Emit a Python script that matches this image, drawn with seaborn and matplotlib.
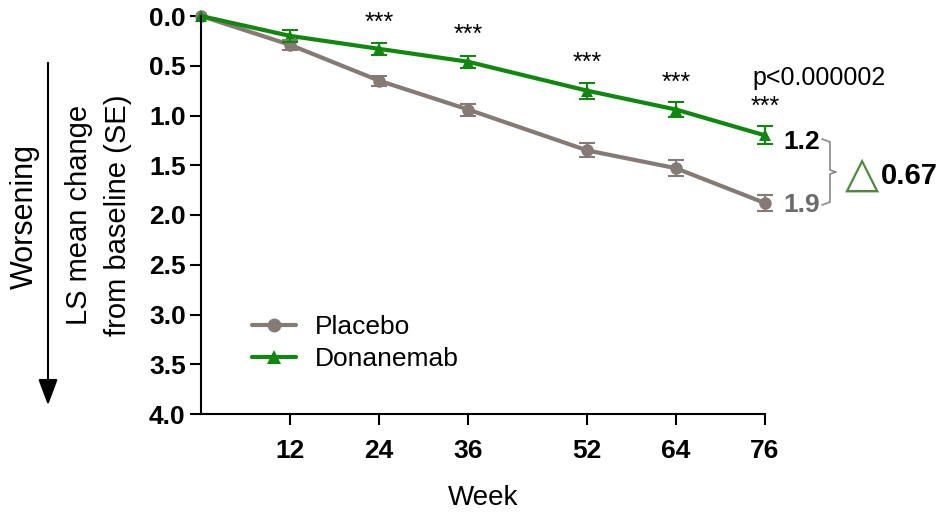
import matplotlib
matplotlib.use("Agg")
import matplotlib.pyplot as plt
import seaborn as sns
import pandas as pd
import numpy as np

weeks = [0, 12, 24, 36, 52, 64, 76]
placebo = [0.0, 0.29, 0.65, 0.94, 1.35, 1.53, 1.88]
placebo_se = [0.0, 0.05, 0.05, 0.06, 0.07, 0.08, 0.08]
donanemab = [0.0, 0.20, 0.33, 0.46, 0.75, 0.94, 1.20]
donanemab_se = [0.0, 0.06, 0.06, 0.06, 0.08, 0.08, 0.09]
stars_weeks = [24, 36, 52, 64, 76]
stars_y = [0.07, 0.19, 0.47, 0.67, 0.91]
xticks = [12, 24, 36, 52, 64, 76]
yticks = [0.0, 0.5, 1.0, 1.5, 2.0, 2.5, 3.0, 3.5, 4.0]

sns.set_style("ticks")
plt.rcParams['font.family'] = ['Liberation Sans', 'DejaVu Sans']
plt.rcParams['text.color'] = 'black'
plt.rcParams['axes.labelcolor'] = 'black'
plt.rcParams['xtick.color'] = 'black'
plt.rcParams['ytick.color'] = 'black'
plt.rcParams['axes.edgecolor'] = 'black'

GRAY = "#857b74"
GREEN = "#108810"

df = pd.DataFrame({
    "Week": weeks * 2,
    "value": placebo + donanemab,
    "se": placebo_se + donanemab_se,
    "group": ["Placebo"] * len(weeks) + ["Donanemab"] * len(weeks),
})

fig = plt.figure(figsize=(9.43, 5.17), dpi=100)
ax = fig.add_axes([201/943, 1-414/517, (765-201)/943, (414-16)/517])

sns.lineplot(data=df, x="Week", y="value", hue="group", style="group",
             markers={"Placebo": "o", "Donanemab": "^"}, dashes=False,
             palette={"Placebo": GRAY, "Donanemab": GREEN},
             linewidth=3, markersize=9, markeredgewidth=0, ax=ax, clip_on=False)

for vals, ses, col in [(placebo, placebo_se, GRAY), (donanemab, donanemab_se, GREEN)]:
    ax.errorbar(weeks[1:], vals[1:], yerr=ses[1:], fmt="none", ecolor=col,
                elinewidth=1.5, capsize=6, capthick=1.5, clip_on=False)

ax.set_xlim(0, 76)
ax.set_ylim(4.0, 0.0)
ax.set_xticks(xticks)
ax.set_yticks(yticks)
ax.set_xticklabels([str(t) for t in xticks], fontsize=19, fontweight="bold")
ax.set_yticklabels([f"{t:.1f}" for t in yticks], fontsize=19, fontweight="bold")
ax.tick_params(axis="both", width=1.5, length=8)
ax.tick_params(axis="x", pad=10)
ax.tick_params(axis="y", pad=3)
ax.spines["left"].set_linewidth(1.5)
ax.spines["bottom"].set_linewidth(1.5)
sns.despine(ax=ax)

ax.set_xlabel("Week", fontsize=20, labelpad=16)
ax.set_ylabel("LS mean change\nfrom baseline (SE)", fontsize=21, labelpad=12, linespacing=1.5)

for w, y in zip(stars_weeks, stars_y):
    ax.text(w, y, "***", ha="center", va="center", fontsize=18)

ax.text(74.3, 0.62, "p<0.000002", ha="left", va="center", fontsize=18)
ax.text(78.5, 1.27, "1.2", ha="left", va="center", fontsize=19, fontweight="bold", color="black", clip_on=False)
ax.text(78.5, 1.90, "1.9", ha="left", va="center", fontsize=19, fontweight="bold", color="#6b6b6b", clip_on=False)

# bracket (figure coords in pixels)
def fx(px): return px / 943
def fy(py): return 1 - py / 517
bx = [822, 830, 830, 836, 830, 830, 822]
by = [139, 142, 170, 172, 174, 202, 205]
fig.add_artist(plt.Line2D([fx(v) for v in bx], [fy(v) for v in by], color="#888888", lw=1.2))
fig.text(fx(862), fy(174), "△", ha="center", va="center", fontsize=32, color="#4f8a3a",
         family=["DejaVu Sans"])
fig.text(fx(881), fy(176), "0.67", ha="left", va="center", fontsize=21, fontweight="bold")

# worsening arrow
fig.add_artist(matplotlib.patches.FancyArrowPatch((fx(48), fy(60)), (fx(48), fy(408)),
               arrowstyle="-|>,head_length=0.8,head_width=0.3", color="black", lw=1.5,
               transform=fig.transFigure, mutation_scale=20))
fig.text(fx(25), fy(217), "Worsening", rotation=90, ha="center", va="center", fontsize=22)

handles, labels = ax.get_legend_handles_labels()
for h in handles:
    h.set_markersize(10)
ax.legend(handles=handles, labels=labels, loc="upper left", bbox_to_anchor=(0.071, 0.275),
          frameon=False, fontsize=19, handlelength=1.7, handletextpad=0.7, labelspacing=0.3,
          borderaxespad=0)

fig.savefig("out.png", dpi=100)
